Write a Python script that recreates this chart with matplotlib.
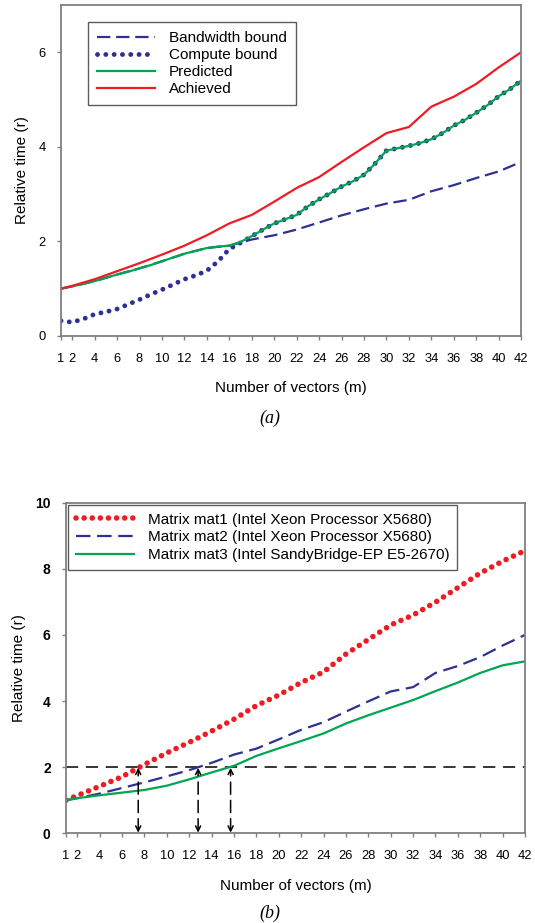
import matplotlib
matplotlib.use('Agg')
import matplotlib.pyplot as plt

plt.rcParams['font.family'] = ['Liberation Sans', 'DejaVu Sans']

# x positions
x_all = list(range(1, 43))
x_even = [1] + list(range(2, 43, 2))
xticks = [1] + list(range(2, 43, 2))

# panel (a)
bandwidth = [1.0, 1.05, 1.16, 1.3, 1.43, 1.58, 1.74, 1.86, 1.91, 2.04, 2.13,
             2.25, 2.4, 2.55, 2.68, 2.8, 2.88, 3.06, 3.19, 3.34, 3.48, 3.68]
compute = [0.32, 0.29, 0.36, 0.46, 0.51, 0.57, 0.67, 0.77, 0.88, 0.98, 1.09,
           1.20, 1.28, 1.38, 1.58, 1.84, 1.97, 2.11, 2.25, 2.38, 2.47, 2.56,
           2.74, 2.89, 3.02, 3.16, 3.27, 3.41, 3.65, 3.92, 3.97, 4.02, 4.08,
           4.16, 4.29, 4.45, 4.57, 4.72, 4.88, 5.07, 5.22, 5.40]
predicted = [1.0, 1.05, 1.1, 1.16, 1.23, 1.3, 1.36, 1.43, 1.5, 1.58, 1.66,
             1.74, 1.8, 1.86, 1.89, 1.91, 1.99, 2.11, 2.25, 2.38, 2.47, 2.56,
             2.74, 2.89, 3.02, 3.16, 3.27, 3.41, 3.65, 3.92, 3.97, 4.02, 4.08,
             4.16, 4.29, 4.45, 4.57, 4.72, 4.88, 5.07, 5.22, 5.40]
achieved = [1.0, 1.06, 1.2, 1.37, 1.54, 1.72, 1.91, 2.13, 2.38, 2.56, 2.84,
            3.13, 3.36, 3.68, 3.99, 4.29, 4.42, 4.85, 5.06, 5.33, 5.68, 6.0]

# panel (b)
mat1 = [1.0, 1.14, 1.42, 1.71, 2.08, 2.43, 2.75, 3.09, 3.45, 3.86, 4.18,
        4.56, 4.88, 5.42, 5.86, 6.3, 6.6, 6.99, 7.43, 7.87, 8.23, 8.55]
mat2 = [1.0, 1.06, 1.2, 1.37, 1.54, 1.72, 1.91, 2.13, 2.38, 2.56, 2.84,
        3.13, 3.36, 3.68, 3.99, 4.29, 4.42, 4.85, 5.06, 5.33, 5.68, 6.0]
mat3 = [1.0, 1.06, 1.15, 1.23, 1.31, 1.44, 1.63, 1.84, 2.04, 2.34, 2.57,
        2.79, 3.02, 3.32, 3.57, 3.8, 4.03, 4.3, 4.56, 4.85, 5.08, 5.2]
threshold = 2
arrow_x = [7.45, 12.8, 15.7]

navy = '#2e3192'
green = '#00a651'
red = '#ed1c24'
spine_col = '#808080'

fig = plt.figure(figsize=(5.35, 9.23), dpi=100)
ax1 = fig.add_axes([0.114, 0.636, 0.860, 0.3586])
ax2 = fig.add_axes([0.1234, 0.0972, 0.858, 0.3582])


def style_axes(ax, ymax, ystep, bold_y=False):
    ax.set_xlim(1, 42)
    ax.set_ylim(0, ymax)
    ax.set_xticks(xticks)
    ax.set_yticks(range(0, ymax + 1, ystep))
    for s in ax.spines.values():
        s.set_color(spine_col)
        s.set_linewidth(1.3)
    ax.tick_params(direction='out', length=3, width=1, color=spine_col,
                   labelsize=9.3, pad=9)
    ax.tick_params(axis='y', pad=8)
    if bold_y:
        for lab in ax.get_yticklabels():
            lab.set_fontweight('bold')
            lab.set_fontsize(10)
    ax.set_xlabel('Number of vectors (m)', fontsize=11, labelpad=12)
    ax.set_ylabel('Relative time (r)', fontsize=11, labelpad=7)


# (a)
ax1.plot(x_even, bandwidth, color=navy, lw=1.6, ls=(0, (6, 2.6)),
         label='Bandwidth bound')
ax1.plot(x_all, compute, color=navy, lw=3.5, ls=(0, (0.01, 1.7)),
         dash_capstyle='round', label='Compute bound')
ax1.plot(x_all, predicted, color=green, lw=1.6, label='Predicted')
ax1.plot(x_even, achieved, color=red, lw=1.6, label='Achieved')
style_axes(ax1, 7, 2)
ax1.set_yticks([0, 2, 4, 6])
leg = ax1.legend(loc='upper left', bbox_to_anchor=(0.0587, 0.9486),
                 borderaxespad=0, fontsize=11, handlelength=3.8,
                 handletextpad=0.9, labelspacing=0.2, fancybox=False,
                 edgecolor='#333333', borderpad=0.6)
leg.get_frame().set_linewidth(1.0)

# (b)
ax2.axhline(threshold, color='black', lw=1.1, ls=(0, (8, 5)))
for xa in arrow_x:
    ax2.annotate('', xy=(xa, threshold - 0.02), xytext=(xa, 0.02),
                 arrowprops=dict(arrowstyle='<->', color='black', lw=1.1,
                                 ls=(0, (8, 4)), shrinkA=0, shrinkB=0,
                                 mutation_scale=9))
ax2.plot(x_even, mat1, color=red, lw=4.0, ls=(0, (0.01, 1.45)),
         dash_capstyle='round',
         label='Matrix mat1 (Intel Xeon Processor X5680)')
ax2.plot(x_even, mat2, color=navy, lw=1.6, ls=(0, (6.5, 3)),
         label='Matrix mat2 (Intel Xeon Processor X5680)')
ax2.plot(x_even, mat3, color=green, lw=1.6,
         label='Matrix mat3 (Intel SandyBridge-EP E5-2670)')
style_axes(ax2, 10, 2, bold_y=True)
leg2 = ax2.legend(loc='upper left', bbox_to_anchor=(0.005, 0.993),
                  borderaxespad=0, fontsize=11, handlelength=3.8,
                  handletextpad=0.9, labelspacing=0.25, fancybox=False,
                  edgecolor='#333333', borderpad=0.5)
leg2.get_frame().set_linewidth(1.0)

fig.text(0.505, 1 - 418 / 923, '(a)', fontsize=13, style='italic',
         family='Liberation Serif', ha='center', va='center')
fig.text(0.505, 1 - 913 / 923, '(b)', fontsize=13, style='italic',
         family='Liberation Serif', ha='center', va='center')

fig.savefig('out.png', dpi=100)
